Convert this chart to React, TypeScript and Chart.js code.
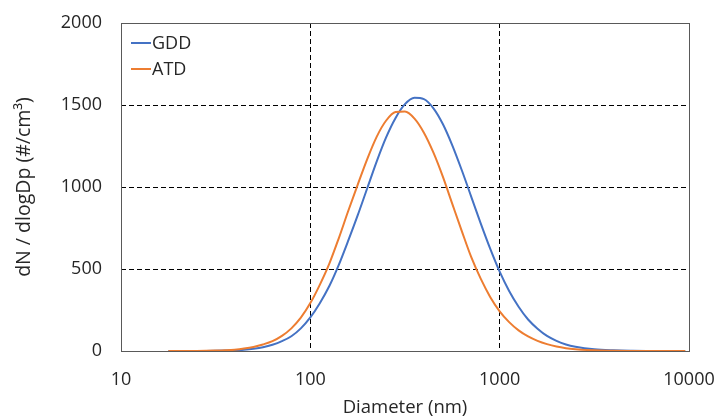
import React, { useEffect, useRef } from "react";
import { Chart, registerables } from "chart.js";

Chart.register(...registerables);

// Diameter (nm)
const diameters = [
  17.8, 20.0, 22.4, 25.1, 28.2, 31.6, 35.5, 39.8, 44.7, 50.1, 56.2, 63.1, 70.8, 79.4, 89.1,
  100, 112, 126, 141, 158, 178, 200, 224, 251, 282, 316, 355, 398, 447, 501, 562, 631, 708,
  794, 891, 1000, 1122, 1259, 1413, 1585, 1778, 1995, 2239, 2512, 3162, 3981, 5012, 6310,
  7943, 9550,
];

// dN/dlogDp (#/cm3)
const gddValues = [
  0, 0.1, 0.2, 0.3, 0.6, 1.2, 2.4, 4.5, 8, 14, 23, 38, 60, 90, 138,
  205, 290, 396, 522, 668, 828, 994, 1155, 1301, 1421, 1505, 1544, 1536, 1480, 1384, 1254, 1102, 940,
  778, 624, 484, 366, 270, 192, 136, 92, 62, 40, 26, 10, 4, 1.5, 0.5,
  0, 0,
];

const atdValues = [
  0, 0.1, 0.2, 0.4, 1.2, 2.5, 4.5, 8, 15, 25, 40, 60, 92, 138, 203,
  292, 402, 533, 684, 849, 1015, 1172, 1306, 1404, 1457, 1460, 1417, 1331, 1209, 1063, 897, 731, 572,
  441, 330, 242, 176, 126, 89, 62, 42, 27, 17, 11, 4, 1.5, 0.5, 0,
  0, 0,
];

const seriesNames = ["GDD", "ATD"];
const seriesColors = ["#4472C4", "#ED7D31"];
const xTicks = [10, 100, 1000, 10000];
const yTicks = [0, 500, 1000, 1500, 2000];

const FONT = "'Open Sans', Lato, sans-serif";
const FSIZE = 18;
const TEXT = "#262626";

const frameAndLegend = {
  id: "frameAndLegend",
  afterDatasetsDraw(chart: any) {
    const { ctx, chartArea } = chart;
    ctx.save();
    ctx.strokeStyle = "#595959";
    ctx.lineWidth = 1;
    ctx.setLineDash([]);
    ctx.strokeRect(
      Math.round(chartArea.left) + 0.5,
      Math.round(chartArea.top) + 0.5,
      Math.round(chartArea.right - chartArea.left),
      Math.round(chartArea.bottom - chartArea.top)
    );
    // legend inside plot area
    chart.data.datasets.forEach((ds: any, i: number) => {
      const y = chartArea.top + 20 + i * 26;
      const x0 = chartArea.left + 10;
      ctx.strokeStyle = ds.borderColor;
      ctx.lineWidth = 2;
      ctx.beginPath();
      ctx.moveTo(x0, y);
      ctx.lineTo(x0 + 20, y);
      ctx.stroke();
      ctx.fillStyle = TEXT;
      ctx.font = `${FSIZE}px ${FONT}`;
      ctx.textBaseline = "middle";
      ctx.textAlign = "left";
      ctx.fillText(ds.label, x0 + 21, y + 1);
    });
    ctx.restore();
  },
};

const zeroPad = (s: any) => {
  s.paddingTop = 0;
  s.paddingBottom = 0;
  s.paddingLeft = 0;
  s.paddingRight = 0;
};

export default function App() {
  const ref = useRef<HTMLCanvasElement>(null);
  useEffect(() => {
    const canvas = ref.current!;
    const chart = new Chart(canvas, {
      type: "line",
      data: {
        datasets: [gddValues, atdValues].map((vals, i) => ({
          label: seriesNames[i],
          data: diameters.map((d, j) => ({ x: d, y: vals[j] })),
          borderColor: seriesColors[i],
          backgroundColor: seriesColors[i],
          borderWidth: 2,
          pointRadius: 0,
          cubicInterpolationMode: "monotone" as const,
          fill: false,
          order: i === 0 ? 1 : 0,
        })),
      },
      plugins: [frameAndLegend],
      options: {
        animation: false,
        responsive: false,
        maintainAspectRatio: false,
        layout: { padding: { left: 0, right: 33, top: 23, bottom: 0 } },
        plugins: {
          legend: { display: false },
          tooltip: { enabled: false },
        },
        scales: {
          x: {
            type: "logarithmic",
            min: 10,
            max: 10000,
            afterBuildTicks: (s: any) => {
              s.ticks = xTicks.map((v) => ({ value: v }));
            },
            afterFit: (s: any) => {
              s.height = 68;
              zeroPad(s);
            },
            ticks: {
              color: TEXT,
              font: { family: FONT, size: FSIZE },
              padding: 18,
              maxRotation: 0,
              autoSkip: false,
              callback: (v: any) => String(v),
            },
            grid: {
              drawTicks: false,
              color: (c: any) =>
                c.tick && (c.tick.value === 100 || c.tick.value === 1000) ? "#000000" : "rgba(0,0,0,0)",
              lineWidth: 1,
            },
            border: { display: false, dash: [5, 3] },
            title: {
              display: true,
              text: "Diameter (nm)",
              color: TEXT,
              font: { family: FONT, size: 18.5 },
              padding: { top: 0, bottom: 0 },
            },
          },
          y: {
            type: "linear",
            min: 0,
            max: 2000,
            afterBuildTicks: (s: any) => {
              s.ticks = yTicks.map((v) => ({ value: v }));
            },
            afterFit: (s: any) => {
              s.width = 121;
              zeroPad(s);
            },
            ticks: {
              color: TEXT,
              font: { family: FONT, size: FSIZE },
              padding: 19,
              callback: (v: any) => String(v),
            },
            grid: {
              drawTicks: false,
              color: (c: any) =>
                c.tick && c.tick.value > 0 && c.tick.value < 2000 ? "#000000" : "rgba(0,0,0,0)",
              lineWidth: 1,
            },
            border: { display: false, dash: [5, 3] },
            title: {
              display: true,
              text: "dN / dlogDp (#/cm³)",
              color: TEXT,
              font: { family: FONT, size: 19.5 },
              padding: { top: 13, bottom: 0 },
            },
          },
        },
      },
    });
    return () => chart.destroy();
  }, []);
  return (
    <div style={{ position: "fixed", left: 0, top: 0, width: 722, height: 419, background: "#fff" }}>
      <canvas ref={ref} width={722} height={419} style={{ width: 722, height: 419, display: "block" }} />
    </div>
  );
}
